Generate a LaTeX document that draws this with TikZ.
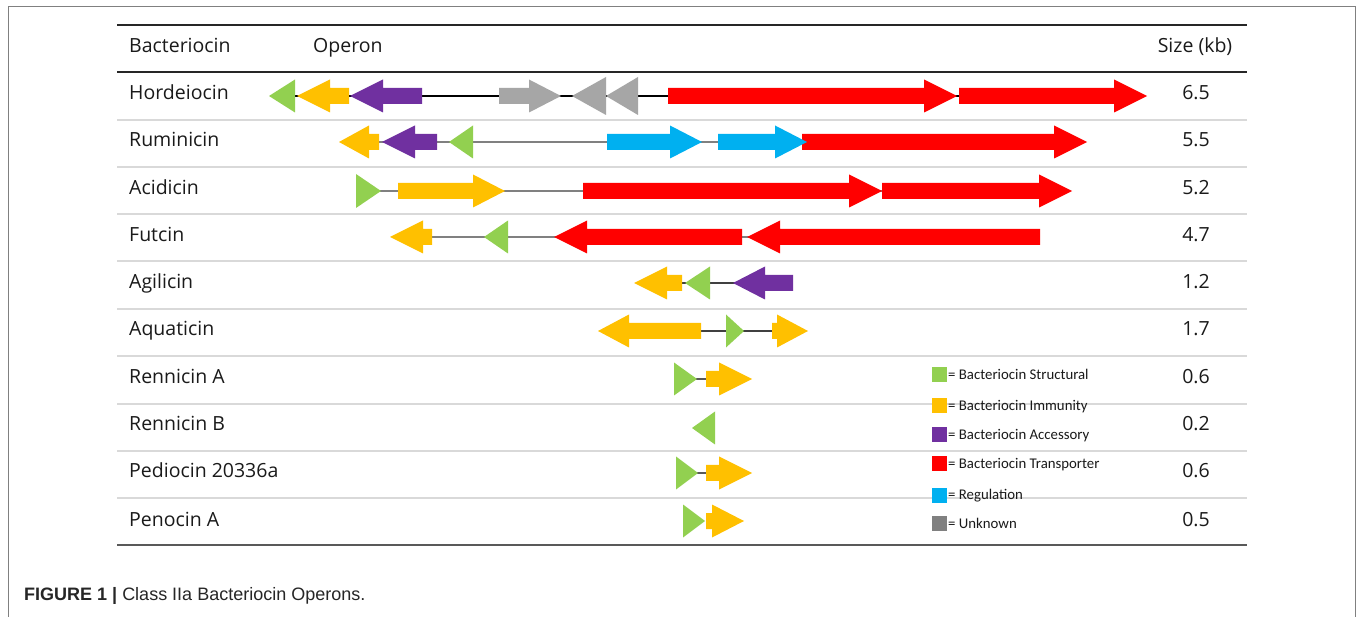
\documentclass[tikz,border=0pt]{standalone}
\usepackage{fontspec}
\setmainfont{Open Sans}
\newfontfamily\legfont{Carlito}
\newfontfamily\capfont{Liberation Sans}
\definecolor{gG}{HTML}{92D050}
\definecolor{gY}{HTML}{FFC000}
\definecolor{gP}{HTML}{7030A0}
\definecolor{gR}{HTML}{FF0000}
\definecolor{gB}{HTML}{00B0F0}
\definecolor{gU}{HTML}{A6A6A6}
\definecolor{gUk}{HTML}{808080}
\definecolor{sepc}{HTML}{D9D9D9}
\definecolor{txtc}{HTML}{1A1A1A}
% right-pointing gene: colour, start, head base, tip, y
\newcommand{\rgene}[5]{\fill[#1] (#2,#5-8) -- (#3,#5-8) -- (#3,#5-16.5) -- (#4,#5) -- (#3,#5+16.5) -- (#3,#5+8) -- (#2,#5+8) -- cycle;}
% left-pointing gene: colour, tip, head base, end, y
\newcommand{\lgene}[5]{\fill[#1] (#4,#5-8) -- (#3,#5-8) -- (#3,#5-16.5) -- (#2,#5) -- (#3,#5+16.5) -- (#3,#5+8) -- (#4,#5+8) -- cycle;}
% triangles: colour, base, tip, y, half height
\newcommand{\gtri}[5]{\fill[#1] (#2,#4-#5) -- (#3,#4) -- (#2,#4+#5) -- cycle;}
\begin{document}
\begin{tikzpicture}[x=1pt,y=-1pt,
  rowtxt/.style={anchor=base west,inner sep=0pt,font=\fontsize{19.5}{22}\selectfont,text=txtc},
  sizetxt/.style={anchor=base,inner sep=0pt,font=\fontsize{19.5}{22}\selectfont,text=txtc},
  legtxt/.style={anchor=base west,inner sep=0pt,font=\legfont\fontsize{14.8}{16}\selectfont,text=txtc},
  legsq/.style={minimum size=15pt,inner sep=0pt},
  backbone/.style={line width=1.5pt,draw=#1},
  seprule/.style={line width=1.5pt,draw=sepc}]
\useasboundingbox (0,0) rectangle (1358,617);
\fill[white] (0,0) rectangle (1358,617);
% frame
\draw[gUk,line width=1pt] (8,617) -- (8,7) -- (1355,7) -- (1355,617);
% rules
\draw[line width=1.5pt,black!85] (117,25) -- (1247,25);
\draw[line width=1.5pt,black!85] (117,72) -- (1247,72);
\foreach \yy in {120,167,214,261,309,356,404,451,498} \draw[seprule] (117,\yy) -- (1247,\yy);
\draw[line width=2pt,black!65] (117,545) -- (1247,545);
% header
\node[rowtxt] (hB) at (129,53) {Bacteriocin};
\node[rowtxt] (hO) at (313,53) {Operon};
\node[sizetxt] (hS) at (1195,53) {Size (kb)};
% row labels
\foreach \nm/\yy/\sz [count=\i] in {Hordeiocin/93/6.5,Ruminicin/140/5.5,Acidicin/188/5.2,Futcin/235/4.7,Agilicin/282/1.2,Aquaticin/329/1.7,Rennicin A/377/0.6,Rennicin B/424/0.2,Pediocin 20336a/471/0.6,Penocin A/519/0.5}{
  \node[rowtxt] (name\i) at (129,\yy+7) {\nm};
  \node[sizetxt] (size\i) at (1196,\yy+7) {\sz};
}
% ---- Hordeiocin
\coordinate (h-s) at (270,96); \coordinate (h-e) at (1143,96);
\draw[backbone=black] (h-s) -- (h-e);
\gtri{gG}{295}{269}{96}{16.5}
\lgene{gY}{297}{330}{349}{96}
\lgene{gP}{350}{383}{422}{96}
\rgene{gU}{499}{529}{561}{96}
\gtri{gU}{606}{572}{96}{19}
\gtri{gU}{638}{606}{96}{19}
\rgene{gR}{668}{924}{957}{96}
\rgene{gR}{959}{1114}{1147}{96}
% ---- Ruminicin
\coordinate (r-s) at (343,142); \coordinate (r-e) at (1083,142);
\draw[backbone=gUk] (r-s) -- (r-e);
\lgene{gY}{339}{369}{379}{142}
\lgene{gP}{382}{415}{437}{142}
\gtri{gG}{473}{449}{142}{16.5}
\rgene{gB}{607}{670}{702}{142}
\rgene{gR}{802}{1054}{1087}{142}
\rgene{gB}{718}{775}{807}{142}
% ---- Acidicin
\coordinate (a-s) at (358,191); \coordinate (a-e) at (1068,191);
\draw[backbone=gUk] (a-s) -- (a-e);
\gtri{gG}{356}{381}{191}{17}
\rgene{gY}{398}{473}{505}{191}
\rgene{gR}{583}{849}{882}{191}
\rgene{gR}{882}{1039}{1072}{191}
% ---- Futcin
\coordinate (f-s) at (394,237); \coordinate (f-e) at (1038,237);
\draw[backbone=gUk] (f-s) -- (f-e);
\lgene{gY}{390}{423}{432}{237}
\gtri{gG}{508}{484}{237}{16.5}
\lgene{gR}{554}{587}{742}{237}
\lgene{gR}{747}{780}{1040}{237}
% ---- Agilicin
\coordinate (g-s) at (638,283); \coordinate (g-e) at (791,283);
\draw[backbone=black!75] (g-s) -- (g-e);
\lgene{gY}{634}{667}{682}{283}
\gtri{gG}{710}{685}{283}{16.5}
\lgene{gP}{733}{765}{793}{283}
% ---- Aquaticin
\coordinate (q-s) at (602,331); \coordinate (q-e) at (804,331);
\draw[backbone=black!75] (q-s) -- (q-e);
\lgene{gY}{598}{629}{701}{331}
\gtri{gG}{726}{744}{331}{16.5}
\rgene{gY}{772}{777}{808}{331}
% ---- Rennicin A
\coordinate (ra-s) at (676,379); \coordinate (ra-e) at (748,379);
\draw[backbone=black!65] (ra-s) -- (ra-e);
\gtri{gG}{674}{697}{379}{16.5}
\rgene{gY}{706}{719}{752}{379}
% ---- Rennicin B
\gtri{gG}{715}{692}{428}{16.5}
% ---- Pediocin
\coordinate (p-s) at (678,473); \coordinate (p-e) at (748,473);
\draw[backbone=black!65] (p-s) -- (p-e);
\gtri{gG}{676}{698}{473}{16.5}
\rgene{gY}{706}{719}{752}{473}
% ---- Penocin
\gtri{gG}{683}{705}{521}{16.5}
\rgene{gY}{706}{712}{744}{521}
% ---- legend
\foreach \cc/\yy/\tx [count=\i] in {gG/375/Bacteriocin Structural,gY/406/Bacteriocin Immunity,gP/435/Bacteriocin Accessory,gR/464/Bacteriocin Transporter,gB/495/Regulation,gUk/523/Unknown}{
  \node[legsq,fill=\cc] (sq\i) at (939.5,\yy) {};
  \node[legtxt] (lt\i) at (948,\yy+5) {= \tx};
}
% caption
\node[anchor=base west,inner sep=0pt,font=\capfont\fontsize{18}{20}\selectfont,text=black!85] (cap) at (24,600) {\textbf{FIGURE 1 |} Class IIa Bacteriocin Operons.};
\end{tikzpicture}
\end{document}
